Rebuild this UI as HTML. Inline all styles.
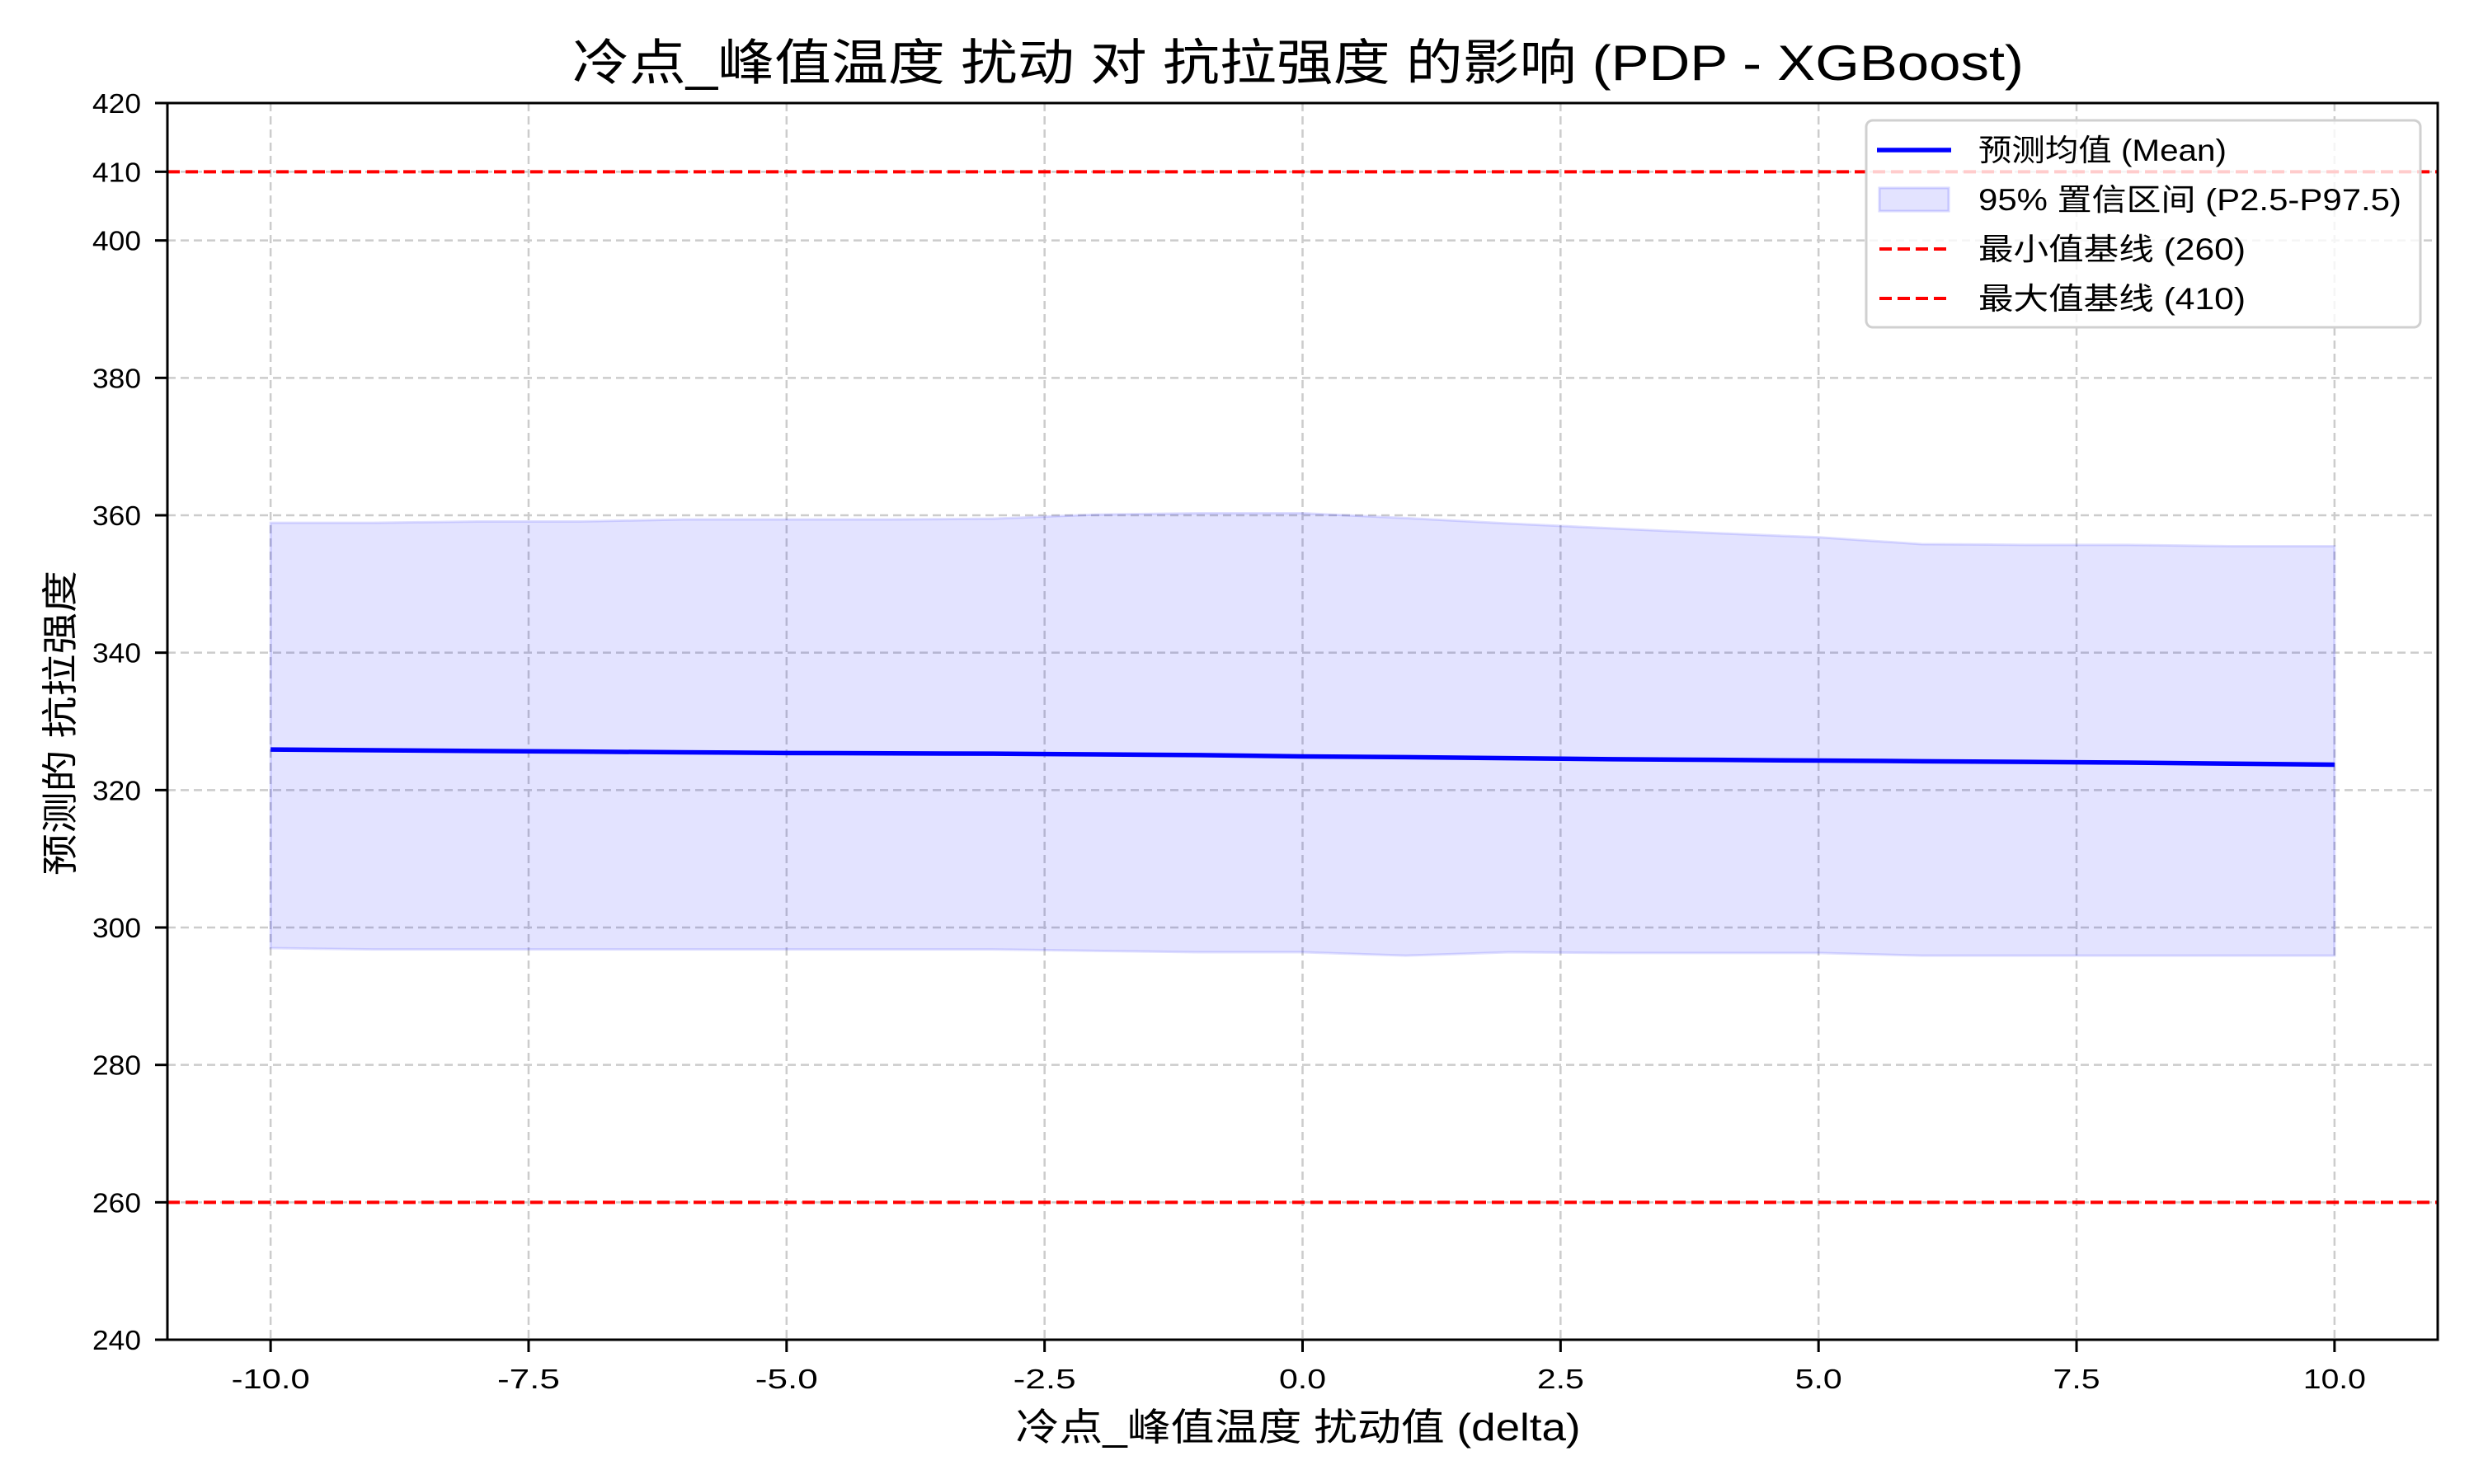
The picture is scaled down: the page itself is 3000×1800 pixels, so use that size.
<!DOCTYPE html>
<html><head><meta charset="utf-8">
<style>
html,body{margin:0;padding:0;background:#fff;}
svg{display:block;}
text{font-family:"Liberation Sans","Noto Sans CJK SC",sans-serif;fill:#000;}
</style></head>
<body>
<svg id="chart" width="3000" height="1800" viewBox="0 0 3000 1800" xmlns="http://www.w3.org/2000/svg"></svg>
<script>
const xValues = [-10,-9,-8,-7,-6,-5,-4,-3,-2,-1,0,1,2,3,4,5,6,7,8,9,10];
const meanValues = [325.9,325.8,325.7,325.6,325.5,325.4,325.35,325.3,325.2,325.1,324.9,324.8,324.65,324.5,324.4,324.3,324.2,324.1,324.0,323.85,323.7];
const upperValues = [358.9,358.9,359.1,359.1,359.4,359.4,359.4,359.5,360.1,360.3,360.3,359.6,358.8,358.1,357.4,356.8,355.8,355.7,355.7,355.5,355.5];
const lowerValues = [297.0,296.8,296.8,296.8,296.8,296.8,296.8,296.8,296.6,296.4,296.4,295.9,296.4,296.3,296.3,296.3,295.9,295.9,295.9,295.9,295.9];
const xTicks = [-10,-7.5,-5,-2.5,0,2.5,5,7.5,10];
const xTickLabels = ["-10.0","-7.5","-5.0","-2.5","0.0","2.5","5.0","7.5","10.0"];
const yTicks = [240,260,280,300,320,340,360,380,400,410,420];
const yTickLabels = ["240","260","280","300","320","340","360","380","400","410","420"];
const baselines = [260,410];

const L=203,R=2956,T=125,B=1625;
const xMin=-11,xMax=11,yMin=240,yMax=420;
const sx=v=>L+(v-xMin)/(xMax-xMin)*(R-L);
const sy=v=>B-(v-yMin)/(yMax-yMin)*(B-T);
const NS="http://www.w3.org/2000/svg";
const svg=document.getElementById('chart');
function mk(tag,attrs,parent){const e=document.createElementNS(NS,tag);for(const k in attrs)e.setAttribute(k,attrs[k]);(parent||svg).appendChild(e);return e;}

// grid
xTicks.forEach((t,i)=>{
  const g=mk('line',{x1:sx(t),x2:sx(t),y1:T,y2:B,stroke:'#cccccc','stroke-width':2.5,'stroke-dasharray':'10 6'});
  
  
});
yTicks.forEach(t=>{
  const g=mk('line',{x1:L,x2:R,y1:sy(t),y2:sy(t),stroke:'#cccccc','stroke-width':2.5,'stroke-dasharray':'10 6'});
  
  
});

// band
let d='';
xValues.forEach((x,i)=>{d+=(i?'L':'M')+sx(x)+' '+sy(upperValues[i]);});
for(let i=xValues.length-1;i>=0;i--){d+='L'+sx(xValues[i])+' '+sy(lowerValues[i]);}
d+='Z';
const band=mk('path',{d:d,fill:'rgba(0,0,255,0.11)',stroke:'rgba(0,0,255,0.12)','stroke-width':3});



// baselines
baselines.forEach(v=>{
  const l=mk('line',{x1:L,x2:R,y1:sy(v),y2:sy(v),stroke:'#ff0000','stroke-width':4,'stroke-dasharray':'15 7'});
  
  
});

// mean line
const pts=xValues.map((x,i)=>sx(x)+','+sy(meanValues[i])).join(' ');
const ml=mk('polyline',{points:pts,fill:'none',stroke:'#0000ff','stroke-width':5.5});



// axes frame
const fr=mk('rect',{x:L,y:T,width:R-L,height:B-T,fill:'none',stroke:'#000','stroke-width':3});



// ticks
xTicks.forEach((t,i)=>{
  const tk=mk('line',{x1:sx(t),x2:sx(t),y1:B,y2:B+15,stroke:'#000','stroke-width':3});
  
  
  const lb=mk('text',{x:sx(t),y:1684,'font-size':33,'text-anchor':'middle',textLength:xTickLabels[i].length*19,lengthAdjust:'spacingAndGlyphs'});
  lb.textContent=xTickLabels[i];
  
  
});
yTicks.forEach((t,i)=>{
  const tk=mk('line',{x1:L-15,x2:L,y1:sy(t),y2:sy(t),stroke:'#000','stroke-width':3});
  
  
  const lb=mk('text',{x:171,y:sy(t)+12,'font-size':33,'text-anchor':'end',textLength:59,lengthAdjust:'spacingAndGlyphs'});
  lb.textContent=yTickLabels[i];
  
  
});

// titles
const title=mk('text',{x:1574,y:97,'font-size':60,'text-anchor':'middle',textLength:1760,lengthAdjust:'spacingAndGlyphs'});
title.textContent='冷点_峰值温度 扰动 对 抗拉强度 的影响 (PDP - XGBoost)';


const xl=mk('text',{x:1574,y:1747,'font-size':46,'text-anchor':'middle',textLength:685,lengthAdjust:'spacingAndGlyphs'});
xl.textContent='冷点_峰值温度 扰动值 (delta)';


const yl=mk('text',{x:0,y:0,'font-size':44,'text-anchor':'middle',textLength:370,lengthAdjust:'spacingAndGlyphs',transform:'translate(88,877) rotate(-90)'});
yl.textContent='预测的 抗拉强度';



// legend
const lg=mk('g',{});


mk('rect',{x:2263,y:146,width:672,height:251,rx:8,fill:'rgba(255,255,255,0.8)',stroke:'#d0d0d0','stroke-width':3},lg);
const entries=[
 {label:'预测均值 (Mean)',w:301,type:'line',name:'legend-entry-mean'},
 {label:'95% 置信区间 (P2.5-P97.5)',w:513,type:'patch',name:'legend-entry-ci'},
 {label:'最小值基线 (260)',w:324,type:'dash',name:'legend-entry-min-baseline'},
 {label:'最大值基线 (410)',w:324,type:'dash',name:'legend-entry-max-baseline'}];
entries.forEach((e,i)=>{
  const cy=182+i*60;
  const g=mk('g',{},lg);
  
  
  if(e.type==='line') mk('line',{x1:2276,x2:2366,y1:cy,y2:cy,stroke:'#0000ff','stroke-width':5.5},g);
  else if(e.type==='patch') mk('rect',{x:2279,y:cy-14,width:84,height:28,fill:'rgba(0,0,255,0.11)',stroke:'rgba(0,0,255,0.15)','stroke-width':3},g);
  else mk('line',{x1:2279,x2:2363,y1:cy,y2:cy,stroke:'#ff0000','stroke-width':4,'stroke-dasharray':'15 7'},g);
  const t=mk('text',{x:2399,y:cy+13,'font-size':37,textLength:e.w,lengthAdjust:'spacingAndGlyphs'},g);
  t.textContent=e.label;
});
</script>
</body></html>
